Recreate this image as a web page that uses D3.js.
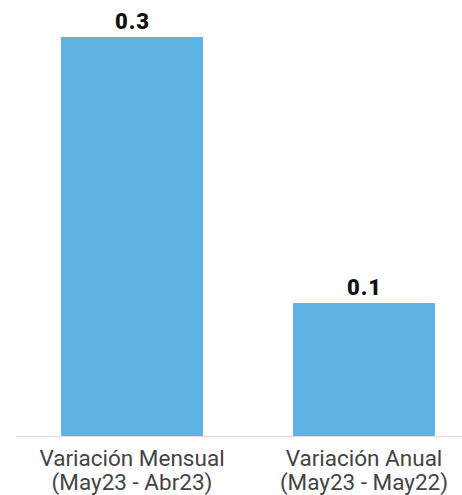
<!DOCTYPE html>
<html>
<head>
<meta charset="utf-8">
<script src="https://cdn.jsdelivr.net/npm/d3@7"></script>
<style>
  body { margin: 0; background: #fff; }
  svg { display: block; font-family: Roboto, "Noto Sans", sans-serif; }
</style>
</head>
<body>
<div id="chart"></div>
<script>
// data
var categories = ["Variación Mensual|(May23 - Abr23)", "Variación Anual|(May23 - May22)"];
var values = [0.3, 0.1];
var valueLabels = ["0.3", "0.1"];

var width = 462, height = 495;
var baseY = 436;

var svg = d3.select("#chart").append("svg")
    .attr("width", width)
    .attr("height", height);

var x = d3.scaleBand()
    .domain(categories)
    .range([16, 480])
    .paddingInner(0.388)
    .paddingOuter(0.194);

var y = d3.scaleLinear()
    .domain([0, 0.3])
    .range([baseY, 37]);

// baseline
svg.append("line")
    .attr("x1", 16).attr("x2", width)
    .attr("y1", baseY + 0.5).attr("y2", baseY + 0.5)
    .attr("stroke", "#dcdcdc")
    .attr("stroke-width", 1);

svg.append("g")
    .selectAll("rect")
    .data(values)
    .enter().append("rect")
    .attr("x", function(d, i) { return x(categories[i]); })
    .attr("y", function(d) { return y(d); })
    .attr("width", x.bandwidth())
    .attr("height", function(d) { return baseY - y(d); })
    .attr("fill", "#5db4e2");

svg.append("g")
    .selectAll("text")
    .data(values)
    .enter().append("text")
    .attr("x", function(d, i) { return x(categories[i]) + x.bandwidth() / 2 + 0.5; })
    .attr("y", function(d) { return y(d) - 8; })
    .attr("text-anchor", "middle")
    .attr("font-size", 22)
    .attr("font-weight", 900)
    .attr("letter-spacing", 1)
    .attr("fill", "#111")
    .text(function(d, i) { return valueLabels[i]; });

// category labels, two lines each
var lab = svg.append("g")
    .selectAll("text")
    .data(categories)
    .enter().append("text")
    .attr("x", function(d) { return x(d) + x.bandwidth() / 2; })
    .attr("y", 466)
    .attr("text-anchor", "middle")
    .attr("font-size", 22.5)
    .attr("fill", "#444");

lab.selectAll("tspan")
    .data(function(d) { return d.split("|"); })
    .enter().append("tspan")
    .attr("x", function() { return d3.select(this.parentNode).attr("x"); })
    .attr("dy", function(d, i) { return i ? 24 : 0; })
    .text(function(d) { return d; });
</script>
</body>
</html>
